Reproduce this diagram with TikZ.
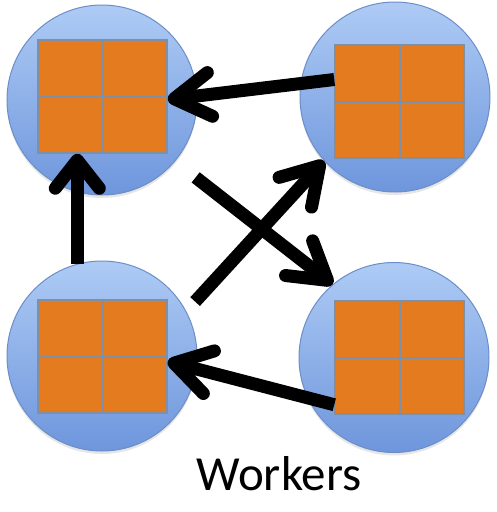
\documentclass[tikz,border=0pt]{standalone}
\usepackage{fontspec}
\setmainfont{Carlito}
\usepackage{tikz}
\usetikzlibrary{arrows.meta}
\usetikzlibrary{shadows}

\definecolor{ringtop}{RGB}{174,203,245}
\definecolor{ringbottom}{RGB}{110,150,220}
\definecolor{ringline}{RGB}{108,142,200}
\definecolor{coreorange}{RGB}{229,123,31}
\definecolor{coregray}{RGB}{127,143,166}

\begin{document}
\begin{tikzpicture}[x=1pt, y=1pt,
      worker/.style={circle, minimum size=190pt, inner sep=0pt,
        draw=ringline, line width=1pt,
        top color=ringtop, bottom color=ringbottom,
        drop shadow={opacity=0.2, shadow xshift=0pt, shadow yshift=-3pt}},
      cores/.style={rectangle, inner sep=0pt,
        minimum width=129pt, minimum height=113pt,
        fill=coreorange, draw=coregray, line width=1.5pt},
      split/.style={coregray, line width=2pt},
      link/.style={line width=13pt,
        -{Straight Barb[length=36pt, width=44pt, round]}}]
    \useasboundingbox (0,0) rectangle (497,-512);
    % workers
    \node[worker] (tl) at (102,-100) {};
    \node[worker] (tr) at (395,-97) {};
    \node[worker] (bl) at (102,-356) {};
    \node[worker] (br) at (394,-357.5) {};
    \node[cores] (tlsq) at (102.5,-96.5) {};
    \node[cores] (trsq) at (399.5,-101.5) {};
    \node[cores] (blsq) at (102.5,-356.5) {};
    \node[cores] (brsq) at (399.5,-357.5) {};
    \foreach \s in {tlsq,trsq,blsq,brsq}
      \draw[split] (\s.north) -- (\s.south) (\s.west) -- (\s.east);
    % messages
    \path[link]
    ([yshift=22pt]trsq.west) edge ([yshift=-3pt]tlsq.east)
    ([yshift=10pt]brsq.south west) edge ([yshift=-5pt]blsq.east)
    (bl.105) edge [-{Straight Barb[length=28pt, width=44pt, round]}]
      (bl.105 |- tlsq.south)
    (bl.28) edge [shorten <=13pt] (tr.222)
    (tl.-40) edge [shorten <=26pt] (br.130);
    \node[anchor=base, font=\fontsize{49}{54}\selectfont] (label)
      at (279,-490) {Workers};
  \end{tikzpicture}
\end{document}
